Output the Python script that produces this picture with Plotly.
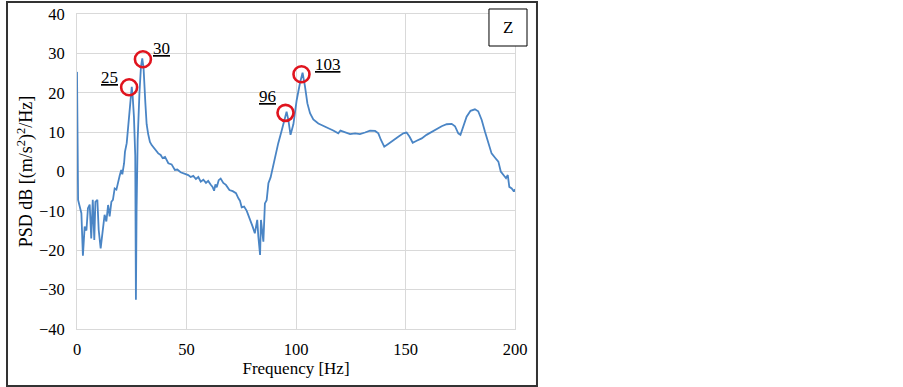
import plotly.graph_objects as go

# ---- data ----
freq = [0.0, 0.5, 2.0, 2.7, 3.5, 4.3, 5.0, 5.8, 6.5, 7.2, 7.9, 8.4, 9.3, 9.9, 10.8,
        11.9, 12.6, 13.4, 14.2, 14.9, 15.7, 16.4, 17.2, 18.0, 18.7, 19.5, 20.2, 20.7,
        21.5, 21.9, 22.7, 23.4, 24.2, 25.0, 25.4, 26.0, 26.6, 26.9, 27.2, 27.7, 28.5,
        29.2, 29.8, 30.4, 31.2, 31.8, 32.5, 33.3, 34.1, 35.6, 37.1, 38.2, 39.1, 40.2,
        41.7, 43.2, 44.7, 45.8, 47.3, 49.3, 50.8, 51.9, 53.1, 54.3, 55.4, 56.5, 57.7,
        58.9, 59.9, 61.0, 61.9, 62.6, 63.2, 63.8, 64.7, 65.6, 66.8, 68.0, 69.6, 71.1,
        72.6, 73.7, 74.4, 75.2, 76.3, 77.5, 79.0, 80.2, 81.2, 82.3, 82.8, 83.6, 84.0,
        84.6, 85.1, 85.5, 85.8, 86.6, 87.4, 88.4, 89.4, 90.4, 91.9, 93.5, 94.6, 95.7,
        96.5, 97.5, 98.8, 100.3, 101.8, 103.0, 104.1, 105.2, 106.4, 107.9, 110.2,
        112.5, 114.8, 117.0, 119.3, 120.3, 122.3, 124.7, 127.0, 129.2, 131.5, 133.8,
        136.1, 137.6, 138.8, 140.3, 142.1, 144.4, 146.7, 149.0, 150.5, 151.8, 153.3,
        155.1, 157.4, 159.6, 162.0, 164.2, 166.5, 168.8, 171.1, 172.6, 174.1, 175.1,
        176.4, 177.9, 179.7, 181.7, 183.2, 184.8, 186.3, 187.8, 189.3, 190.9, 192.4,
        193.5, 194.7, 195.9, 196.7, 197.4, 198.5, 199.5, 200.0]
psd_db = [25.3, -7.2, -10.6, -21.4, -14.0, -15.0, -9.3, -8.4, -17.0, -7.2, -17.4, -7.7,
          -7.2, -14.8, -19.5, -13.1, -11.0, -12.7, -8.5, -11.4, -7.7, -7.2, -4.3, -4.6,
          -2.6, -1.0, 0.4, -0.7, 2.1, 5.0, 7.2, 11.4, 16.5, 21.5, 19.3, 13.9, 4.0, -32.6,
          -10.0, 8.0, 19.8, 26.6, 28.7, 26.2, 17.5, 12.0, 9.5, 7.5, 6.7, 5.5, 4.6, 4.2,
          3.4, 3.7, 2.1, 1.8, 0.4, 0.5, -0.2, -0.6, -0.9, -1.4, -1.1, -1.9, -1.4, -2.6,
          -2.1, -2.9, -2.4, -3.3, -3.9, -4.9, -3.3, -4.0, -2.2, -1.8, -2.9, -3.4, -4.7,
          -5.0, -5.5, -6.8, -7.4, -9.1, -8.9, -10.0, -12.0, -14.0, -15.7, -12.3, -16.5,
          -21.2, -12.3, -15.7, -17.8, -12.3, -8.1, -7.3, -3.0, -1.5, 1.2, 3.3, 7.2, 10.5,
          13.1, 15.2, 13.1, 9.3, 12.0, 18.1, 22.4, 25.1, 21.6, 17.3, 14.8, 13.2, 12.2,
          11.5, 11.0, 10.4, 9.7, 10.4, 9.9, 9.5, 9.7, 9.5, 9.9, 10.4, 10.3, 9.7, 8.0,
          6.3, 7.0, 7.8, 8.8, 9.7, 9.9, 8.9, 7.3, 7.8, 8.4, 9.3, 10.1, 10.7, 11.5, 12.0,
          12.1, 11.5, 9.7, 9.3, 11.4, 13.9, 15.4, 15.8, 15.3, 13.1, 10.1, 7.1, 4.6, 3.5,
          2.5, 0.0, -0.9, -1.7, -0.9, -3.9, -4.3, -5.1, -4.5]

peak_labels = ["25", "30", "96", "103"]
circle_freq = [23.8, 30.1, 95.2, 102.5]
circle_db = [21.4, 28.5, 14.9, 24.7]
label_freq = [14.8, 38.8, 87.2, 114.8]
label_db = [24.0, 31.3, 19.0, 27.2]

x_ticks = [0, 50, 100, 150, 200]
y_ticks = [-40, -30, -20, -10, 0, 10, 20, 30, 40]

FONT = "Liberation Serif"
GRID = "#d9d9d9"

fig = go.Figure()
fig.add_trace(go.Scatter(x=freq, y=psd_db, mode="lines",
                         line=dict(color="#4a85c5", width=1.8),
                         showlegend=False, hoverinfo="skip"))
fig.add_trace(go.Scatter(x=circle_freq, y=circle_db, mode="markers",
                         marker=dict(symbol="circle-open", size=16,
                                     line=dict(color="#e0141e", width=2.6),
                                     color="#e0141e"),
                         showlegend=False, hoverinfo="skip"))

for t, fx, fy in zip(peak_labels, label_freq, label_db):
    fig.add_annotation(x=fx, y=fy, text=t, showarrow=False,
                       xanchor="center", yanchor="middle",
                       font=dict(family=FONT, size=17, color="black",
                                 lineposition="under"))

# Z label box
fig.add_shape(type="rect", xref="paper", yref="paper",
              x0=0.9406, x1=1.0274, y0=0.8984, y1=1.0159,
              line=dict(color="black", width=1), fillcolor="white")
fig.add_annotation(xref="paper", yref="paper", x=0.984, y=0.957, text="Z",
                   showarrow=False, xanchor="center", yanchor="middle",
                   font=dict(family=FONT, size=17, color="black"))

# outer frame
fig.add_shape(type="rect", xref="paper", yref="paper",
              x0=-0.1598, x1=1.0502, y0=-0.181, y1=1.038,
              line=dict(color="#333333", width=2))

fig.update_layout(
    width=903, height=387,
    margin=dict(l=77, r=388, t=14, b=58),
    paper_bgcolor="white", plot_bgcolor="white",
    font=dict(family=FONT, size=16.5, color="black"),
    xaxis=dict(range=[0, 200], tickvals=x_ticks, showgrid=True, gridcolor=GRID,
               gridwidth=1, zeroline=False, showline=True, linecolor=GRID,
               mirror=True, ticks="", ticklabelstandoff=5, automargin=False,
               title=dict(text="Frequency [Hz]", font=dict(size=17), standoff=4)),
    yaxis=dict(range=[-40, 40], tickvals=y_ticks, showgrid=True, gridcolor=GRID,
               gridwidth=1, zeroline=False, showline=True, linecolor=GRID,
               mirror=True, ticks="", ticklabelstandoff=8, automargin=False,
               title=dict(text="PSD dB [(m/s<sup>2</sup>)<sup>2</sup>/Hz]",
                          font=dict(size=18), standoff=1)),
)

fig.write_html("out.html", config={"displayModeBar": False},
               post_script="document.body.style.margin='0';")
